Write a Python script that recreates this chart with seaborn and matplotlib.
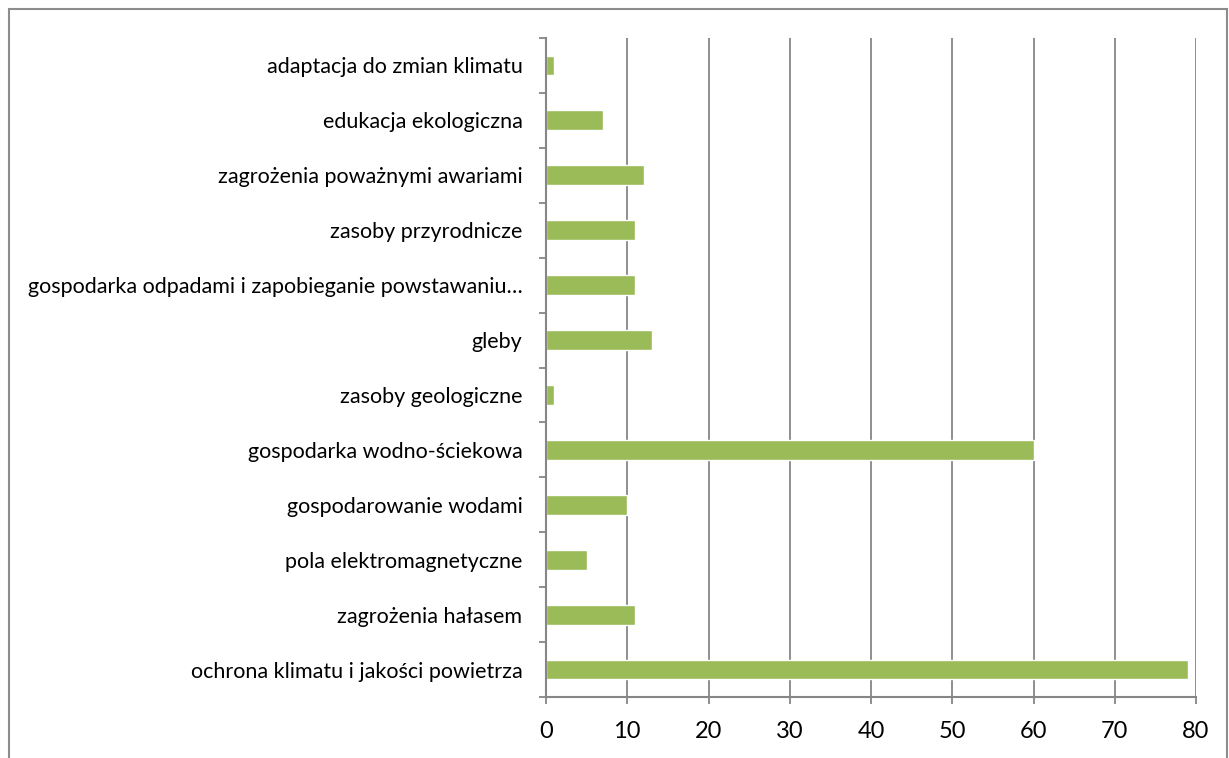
import numpy as np
import pandas as pd
import matplotlib
matplotlib.use("Agg")
import matplotlib.pyplot as plt
import seaborn as sns
from matplotlib.patches import Rectangle
from matplotlib.ticker import FixedLocator

# dane z wykresu (od góry do dołu)
kategorie = [
    "adaptacja do zmian klimatu",
    "edukacja ekologiczna",
    "zagrożenia poważnymi awariami",
    "zasoby przyrodnicze",
    "gospodarka odpadami i zapobieganie powstawaniu…",
    "gleby",
    "zasoby geologiczne",
    "gospodarka wodno-ściekowa",
    "gospodarowanie wodami",
    "pola elektromagnetyczne",
    "zagrożenia hałasem",
    "ochrona klimatu i jakości powietrza",
]
wartosci = [1, 7, 12, 11, 11, 13, 1, 60, 10, 5, 11, 79]
x_ticks = [0, 10, 20, 30, 40, 50, 60, 70, 80]

ZIELONY = "#9BBB59"
SZARY = "#868686"

sns.set_style("white")
plt.rcParams['font.family'] = ['Lato', 'DejaVu Sans']

df = pd.DataFrame({"kategoria": kategorie, "wartosc": wartosci})

fig = plt.figure(figsize=(12.29, 7.58), dpi=100)
ax = fig.add_axes([546 / 1229, 1 - 697 / 758, 650 / 1229, (697 - 38) / 758])

sns.barplot(data=df, x="wartosc", y="kategoria", orient="h", color=ZIELONY,
            width=0.36, saturation=1, ax=ax)

ax.set_xlim(0, 80)
ax.set_ylim(len(kategorie) - 0.5, -0.5)
ax.set_xlabel("")
ax.set_ylabel("")

# siatka pionowa
ax.xaxis.set_major_locator(FixedLocator(x_ticks))
ax.set_axisbelow(True)
ax.grid(axis="x", color=SZARY, linewidth=1.3)
ax.grid(axis="y", visible=False)

for s in ["top", "right"]:
    ax.spines[s].set_visible(False)
for s in ["left", "bottom"]:
    ax.spines[s].set_color(SZARY)
    ax.spines[s].set_linewidth(1.5)

# znaczniki osi Y pomiędzy kategoriami
ax.yaxis.set_minor_locator(FixedLocator(np.arange(-0.5, len(kategorie), 1.0)))
ax.tick_params(axis="y", which="major", length=0, pad=17, labelsize=15.5, labelcolor="black")
ax.tick_params(axis="y", which="minor", left=True, length=5, width=1.3, color=SZARY)
ax.tick_params(axis="x", which="major", bottom=True, length=5, width=1.3, color=SZARY,
               pad=12, labelsize=17, labelcolor="black")

# ramka wykresu
fig.patches.append(Rectangle((9 / 1229, -0.01), 1218 / 1229, 1 - 9 / 758 + 0.01,
                             transform=fig.transFigure, fill=False,
                             edgecolor="#8c8c8c", linewidth=1.5))

fig.savefig("out.png", dpi=100)
